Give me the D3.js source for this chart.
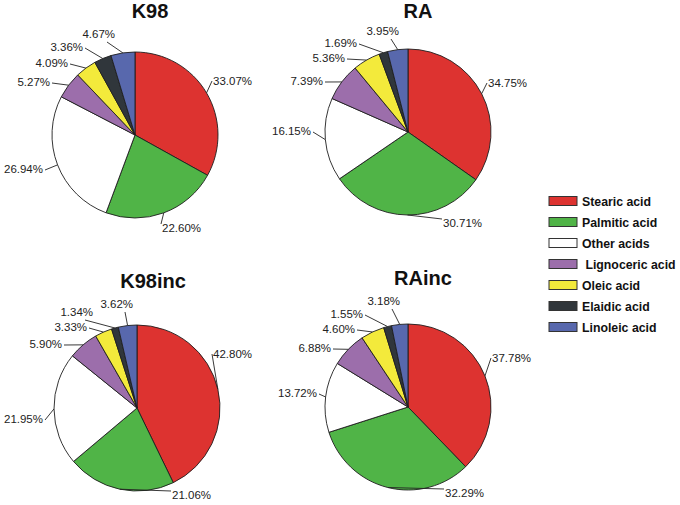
<!DOCTYPE html>
<html><head><meta charset="utf-8">
<script src="https://cdn.jsdelivr.net/npm/d3@7"></script>
<style>
body{margin:0;background:#fff;}
svg{font-family:"Liberation Sans",Arial,sans-serif;}
</style></head>
<body><svg id="c" width="680" height="505"></svg>
<script>
// ---- data ----
const categories = ["Stearic acid","Palmitic acid","Other acids","Lignoceric acid","Oleic acid","Elaidic acid","Linoleic acid"];
const legendLabels = ["Stearic acid","Palmitic acid","Other acids"," Lignoceric acid","Oleic acid","Elaidic acid","Linoleic acid"];
const titles = ["K98","RA","K98inc","RAinc"];
const k98    = [33.07,22.60,26.94,5.27,4.09,3.36,4.67];
const ra     = [34.75,30.71,16.15,7.39,5.36,1.69,3.95];
const k98inc = [42.80,21.06,21.95,5.90,3.33,1.34,3.62];
const rainc  = [37.78,32.29,13.72,6.88,4.60,1.55,3.18];
const seriesValues = [k98, ra, k98inc, rainc];

// ---- layout / style (not data) ----
const colors = ["#dd3330","#50b447","#ffffff","#9c6eab","#f3ea3b","#30363b","#5868ad"];
const centers = [[135,135],[408,132],[137,408],[408,407]];
const radius = 83;
const titleLayout = [[15,18],[10,18],[16,288],[15,285]]; // dx from center, baseline y
// label text anchor (edge x, baseline y) relative to pie centre
const labelLayout = [
  [[78,-50],[27,97],[-92,38],[-85,-49],[-67,-68],[-52,-84],[-20,-97]],
  [[80,-45],[35,95],[-97,3],[-85,-47],[-63,-70],[-51,-85],[-9,-97]],
  [[76,-50],[35,91],[-94,15],[-75,-60],[-50,-77],[-44,-92],[-4,-100]],
  [[84,-45],[37,90],[-91,-10],[-77,-55],[-53,-74],[-45,-89],[-8,-102]]
];

const svg = d3.select("#c");
const pie = d3.pie().sort(null).value(d => d);
const arc = d3.arc().innerRadius(0).outerRadius(radius);

seriesValues.forEach((vals, ci) => {
  const [cx, cy] = centers[ci];
  const g = svg.append("g").attr("transform", `translate(${cx},${cy})`);
  const arcs = pie(vals);
  g.selectAll("path.slice").data(arcs).enter().append("path")
    .attr("class","slice")
    .attr("d", arc)
    .attr("fill", (d,i) => colors[i])
    .attr("stroke", "#1e1e1e")
    .attr("stroke-width", 0.9)
    .attr("stroke-linejoin","round");

  // title
  svg.append("text")
    .attr("x", cx + titleLayout[ci][0]).attr("y", titleLayout[ci][1])
    .attr("text-anchor","middle")
    .attr("font-size", 20).attr("font-weight","bold").attr("fill","#111")
    .text(titles[ci]);

  // labels + leader lines
  arcs.forEach((d, i) => {
    const mid = (d.startAngle + d.endAngle) / 2;
    const px = radius * Math.sin(mid), py = -radius * Math.cos(mid);
    const [tx, ty] = labelLayout[ci][i];
    const anchorEnd = tx < 0;
    let lx, ly;
    if (ty < -90) { lx = tx - 8; ly = ty + 4; }
    else if (ty > 80) { lx = tx - 1; ly = ty - 8; }
    else if (anchorEnd) { lx = tx + 2; ly = ty - 3; }
    else { lx = tx - 1; ly = ty - 4; }
    g.append("line")
      .attr("x1", px).attr("y1", py).attr("x2", lx).attr("y2", ly)
      .attr("stroke","#222").attr("stroke-width",0.9);
    g.append("text")
      .attr("x", tx).attr("y", ty)
      .attr("text-anchor", anchorEnd ? "end" : "start")
      .attr("font-size", 11.5).attr("fill","#222")
      .text(d3.format(".2f")(vals[i]) + "%");
  });
});

// legend
const ly = d3.scalePoint().domain(categories).range([201, 327]);
const leg = svg.append("g");
categories.forEach((c, i) => {
  const y = ly(c);
  leg.append("rect").attr("x",549).attr("y",y-4.5).attr("width",28).attr("height",9)
    .attr("fill",colors[i]).attr("stroke","#333").attr("stroke-width",1);
  leg.append("text").attr("x",582).attr("y",y+4.5)
    .attr("font-size",12.3).attr("font-weight","bold").attr("fill","#111")
    .style("white-space","pre")
    .text(legendLabels[i]);
});
</script></body></html>
